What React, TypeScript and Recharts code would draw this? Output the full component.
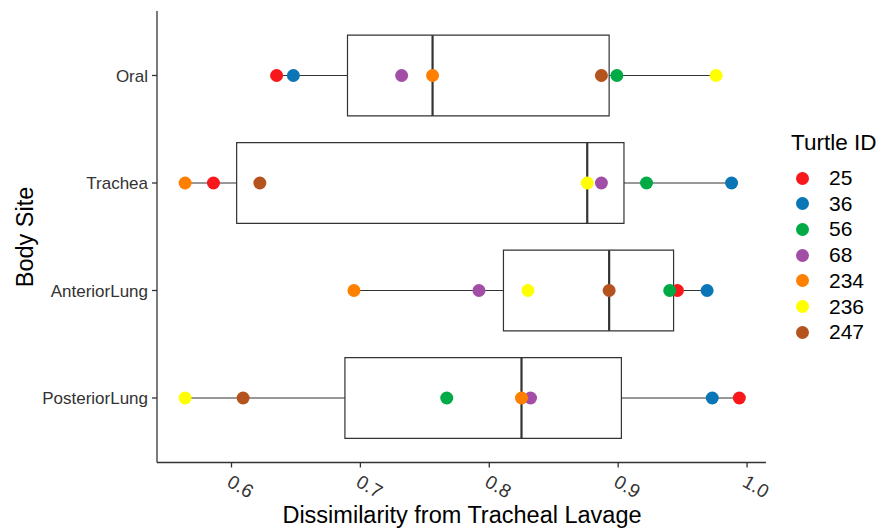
import {
  ComposedChart, XAxis, YAxis, Scatter, ReferenceArea, ReferenceLine,
} from 'recharts'

const sites = ['Oral', 'Trachea', 'AnteriorLung', 'PosteriorLung']
const turtleIds = ['25', '36', '56', '68', '234', '236', '247']
const turtleColors = ['#f8171b', '#0a76b6', '#00ab45', '#a24ea6', '#ff7f00', '#ffff00', '#b5531f']

// dissimilarity per turtle, in turtleIds order
const oral = [0.635, 0.648, 0.899, 0.732, 0.756, 0.976, 0.887]
const trachea = [0.586, 0.988, 0.922, 0.887, 0.564, 0.876, 0.622]
const anteriorLung = [0.946, 0.969, 0.940, 0.792, 0.695, 0.830, 0.893]
const posteriorLung = [0.994, 0.973, 0.767, 0.832, 0.825, 0.564, 0.609]

const xTicks = [0.6, 0.7, 0.8, 0.9, 1.0]

const siteValues = [oral, trachea, anteriorLung, posteriorLung]

const quantile = (sorted: number[], p: number) => {
  const pos = (sorted.length - 1) * p
  const lo = Math.floor(pos)
  const hi = Math.ceil(pos)
  return sorted[lo] + (sorted[hi] - sorted[lo]) * (pos - lo)
}

const boxes = siteValues.map((vals, i) => {
  const s = [...vals].sort((a, b) => a - b)
  const q1 = quantile(s, 0.25)
  const med = quantile(s, 0.5)
  const q3 = quantile(s, 0.75)
  const iqr = q3 - q1
  const lo = Math.min(...s.filter((v) => v >= q1 - 1.5 * iqr))
  const hi = Math.max(...s.filter((v) => v <= q3 + 1.5 * iqr))
  return { i, q1, med, q3, lo, hi }
})

const series = turtleIds.map((id, t) => ({
  id,
  color: turtleColors[t],
  data: siteValues.map((vals, i) => ({ x: vals[t], y: i })),
}))

const HALF = 0.375
const ink = '#333333'
const font = '"Liberation Sans", Arial, sans-serif'

function XTick({ x, y, payload }: any) {
  return (
    <text
      transform={`translate(${x + 9},${y + 17}) rotate(30)`}
      textAnchor="middle"
      dominantBaseline="central"
      fontSize={19}
      fill={ink}
      fontFamily={font}
    >
      {Number(payload.value).toFixed(1)}
    </text>
  )
}

export default function App() {
  return (
    <div style={{ position: 'relative', width: 882, height: 531, fontFamily: font, background: '#fff' }}>
      <style>{'body{margin:0}'}</style>
      <ComposedChart width={882} height={531} margin={{ top: 11, right: 116, left: 0, bottom: 38.5 }}>
        <XAxis
          type="number"
          dataKey="x"
          domain={[0.5422, 1.0147]}
          allowDataOverflow
          ticks={xTicks}
          tick={<XTick />}
          tickSize={5}
          height={30}
          stroke={ink}
          strokeWidth={1.3}
          tickLine={{ stroke: ink }}
        />
        <YAxis
          type="number"
          dataKey="y"
          domain={[-0.6, 3.6]}
          allowDataOverflow
          reversed
          ticks={[0, 1, 2, 3]}
          tickFormatter={(v: number) => sites[v]}
          width={157}
          tickSize={5}
          tickMargin={4}
          stroke={ink}
          strokeWidth={1.3}
          tick={{ fontSize: 17, fill: ink, fontFamily: font }}
        />
        {boxes.map((b) => (
          <ReferenceLine
            key={`wl${b.i}`}
            segment={[{ x: b.lo, y: b.i }, { x: b.q1, y: b.i }]}
            stroke={ink}
            strokeWidth={1.2}
          />
        ))}
        {boxes.map((b) => (
          <ReferenceLine
            key={`wh${b.i}`}
            segment={[{ x: b.q3, y: b.i }, { x: b.hi, y: b.i }]}
            stroke={ink}
            strokeWidth={1.2}
          />
        ))}
        {boxes.map((b) => (
          <ReferenceArea
            key={`box${b.i}`}
            x1={b.q1}
            x2={b.q3}
            y1={b.i - HALF}
            y2={b.i + HALF}
            fill="#fff"
            fillOpacity={1}
            stroke={ink}
            strokeWidth={1.2}
          />
        ))}
        {boxes.map((b) => (
          <ReferenceLine
            key={`med${b.i}`}
            segment={[{ x: b.med, y: b.i - HALF }, { x: b.med, y: b.i + HALF }]}
            stroke={ink}
            strokeWidth={2.2}
          />
        ))}
        {series.map((s) => (
          <Scatter
            key={s.id}
            name={s.id}
            data={s.data}
            fill={s.color}
            isAnimationActive={false}
            shape={(p: any) => <circle cx={p.cx} cy={p.cy} r={6.5} fill={s.color} />}
          />
        ))}
      </ComposedChart>

      <div
        style={{
          position: 'absolute', left: 25, top: 236.75, transform: 'translate(-50%,-50%) rotate(-90deg)',
          fontSize: 23.5, whiteSpace: 'nowrap', color: '#000',
        }}
      >
        Body Site
      </div>
      <div
        style={{
          position: 'absolute', left: 462, top: 515, transform: 'translate(-50%,-50%)',
          fontSize: 23.5, whiteSpace: 'nowrap', color: '#000',
        }}
      >
        Dissimilarity from Tracheal Lavage
      </div>

      <div style={{ position: 'absolute', left: 791, top: 143, transform: 'translateY(-50%)', fontSize: 22.5, whiteSpace: 'nowrap' }}>
        Turtle ID
      </div>
      {series.map((s, t) => (
        <div key={s.id} style={{ position: 'absolute', left: 796, top: 178 + t * 25.7, transform: 'translateY(-50%)', display: 'flex', alignItems: 'center' }}>
          <span style={{ width: 13, height: 13, borderRadius: '50%', background: s.color, display: 'inline-block' }} />
          <span style={{ marginLeft: 20, fontSize: 21, lineHeight: '24px' }}>{s.id}</span>
        </div>
      ))}
    </div>
  )
}
